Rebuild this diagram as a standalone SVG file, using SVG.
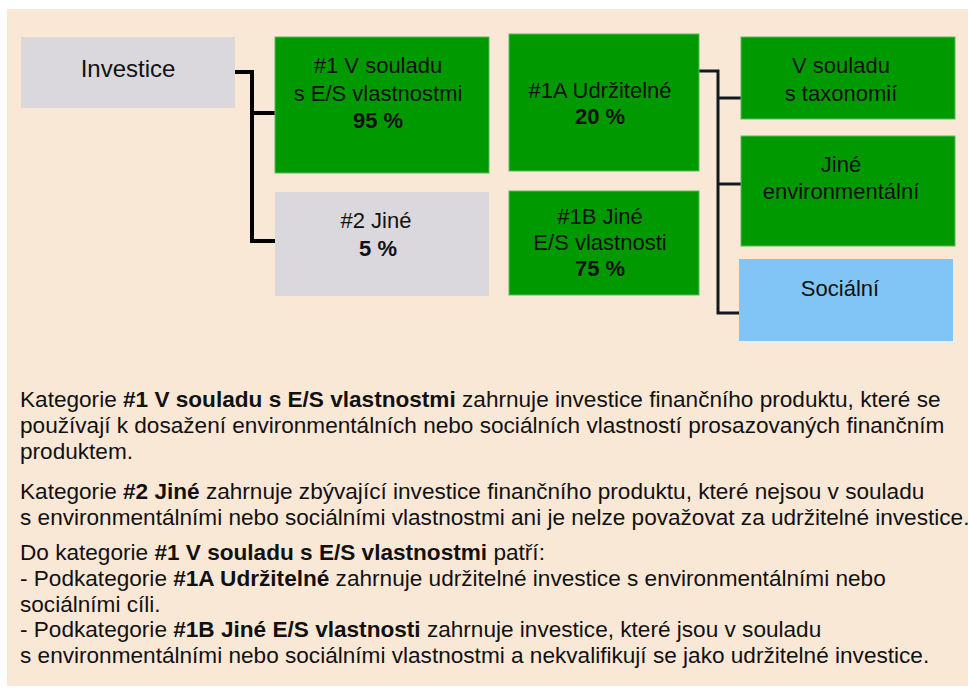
<svg xmlns="http://www.w3.org/2000/svg" width="968" height="689" viewBox="0 0 968 689">
<style>
.t{font-family:"Liberation Sans",Arial,sans-serif;fill:#111;}
.n{font-size:22px;text-anchor:middle;}
.b{font-weight:bold;}
.body{font-size:22.6px;}
.green{fill:#009900;stroke:#5cb85c;stroke-width:1;}
.gray{fill:#DAD8DC;}
.blue{fill:#80C5F6;}
.c1{fill:none;stroke:#000;stroke-width:4;}
.c2{fill:none;stroke:#111a22;stroke-width:3;}
</style>
<rect x="0" y="0" width="968" height="689" fill="#ffffff"/>
<rect x="7" y="9" width="961" height="677" fill="#FAE8D7"/>
<g id="connectors">
<path class="c1" d="M235 72 H252 V241 H275 M252 113 H275"/>
<path class="c2" d="M699 71 H718 V313 H739 M718 98 H741 M718 184 H741"/>
</g>
<g id="investice">
<rect class="gray" x="21" y="37" width="214" height="71"/>
<text class="t n" x="128" y="77" style="font-size:24px">Investice</text>
</g>
<g id="n1">
<rect class="green" x="275" y="37" width="214" height="136"/>
<text class="t n" x="378" y="73">#1 V souladu</text>
<text class="t n" x="378" y="101">s E/S vlastnostmi</text>
<text class="t n b" x="378" y="128">95 %</text>
</g>
<g id="n2">
<rect class="gray" x="275" y="192" width="214" height="104"/>
<text class="t n" x="376" y="228">#2 Jiné</text>
<text class="t n b" x="378" y="256">5 %</text>
</g>
<g id="n1a">
<rect class="green" x="509" y="34" width="190" height="137"/>
<text class="t n" x="600" y="98">#1A Udržitelné</text>
<text class="t n b" x="600" y="124">20 %</text>
</g>
<g id="n1b">
<rect class="green" x="509" y="191" width="190" height="104"/>
<text class="t n" x="600" y="224">#1B Jiné</text>
<text class="t n" x="600" y="250">E/S vlastnosti</text>
<text class="t n b" x="600" y="276">75 %</text>
</g>
<g id="taxonomie">
<rect class="green" x="741" y="37" width="214" height="82"/>
<text class="t n" x="841" y="73">V souladu</text>
<text class="t n" x="841" y="101">s taxonomií</text>
</g>
<g id="jine-env">
<rect class="green" x="741" y="136" width="214" height="110"/>
<text class="t n" x="841" y="172">Jiné</text>
<text class="t n" x="841" y="199">environmentální</text>
</g>
<g id="socialni">
<rect class="blue" x="739" y="259" width="214" height="82"/>
<text class="t n" x="840" y="296">Sociální</text>
</g>
<g id="legend">
<text class="t body" x="20" y="407">Kategorie <tspan class="b">#1 V souladu s E/S vlastnostmi</tspan> zahrnuje investice finančního produktu, které se</text>
<text class="t body" x="20" y="433">používají k dosažení environmentálních nebo sociálních vlastností prosazovaných finančním</text>
<text class="t body" x="20" y="459">produktem.</text>
<text class="t body" x="20" y="499">Kategorie <tspan class="b">#2 Jiné</tspan> zahrnuje zbývající investice finančního produktu, které nejsou v souladu</text>
<text class="t body" x="20" y="525">s environmentálními nebo sociálními vlastnostmi ani je nelze považovat za udržitelné investice.</text>
<text class="t body" x="20" y="560">Do kategorie <tspan class="b">#1 V souladu s E/S vlastnostmi</tspan> patří:</text>
<text class="t body" x="20" y="586">- Podkategorie <tspan class="b">#1A Udržitelné</tspan> zahrnuje udržitelné investice s environmentálními nebo</text>
<text class="t body" x="20" y="611.5">sociálními cíli.</text>
<text class="t body" x="20" y="637">- Podkategorie <tspan class="b">#1B Jiné E/S vlastnosti</tspan> zahrnuje investice, které jsou v souladu</text>
<text class="t body" x="20" y="663">s environmentálními nebo sociálními vlastnostmi a nekvalifikují se jako udržitelné investice.</text>
</g>
</svg>
